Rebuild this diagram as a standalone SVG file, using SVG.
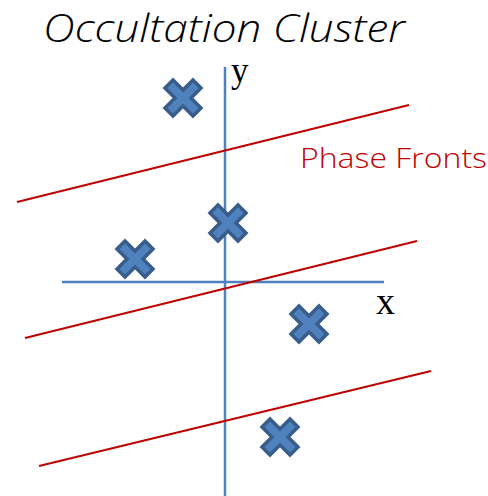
<svg xmlns="http://www.w3.org/2000/svg" width="488" height="496" viewBox="0 0 488 496">
<style>
.ax{stroke:#4f81bd;stroke-width:2.5;fill:none}
.pf{stroke:#c00000;stroke-width:2;fill:none}
.mk{fill:#4f81bd;stroke:#385d8a;stroke-width:3.5;stroke-linejoin:miter}
</style>
<defs>
<polygon id="x" points="-18,-10 -10,-18 0,-8 10,-18 18,-10 8,0 18,10 10,18 0,8 -10,18 -18,10 -8,0"/>
</defs>
<rect width="488" height="496" fill="#fff"/>
<g id="connectors">
<line class="ax" x1="225" y1="67" x2="225" y2="496"/>
<line class="ax" x1="62" y1="282" x2="384" y2="282"/>
<line class="pf" x1="17" y1="202" x2="409" y2="105"/>
<line class="pf" x1="25" y1="338" x2="417" y2="241"/>
<line class="pf" x1="39" y1="466" x2="431" y2="371"/>
</g>
<g id="title"><text x="43" y="42" font-family="Open Sans, sans-serif" font-style="italic" font-weight="300" font-size="38" textLength="362" lengthAdjust="spacingAndGlyphs" fill="#000">Occultation Cluster</text></g>
<g id="label-y"><text x="231" y="82" font-family="Liberation Serif, serif" font-size="35" fill="#000">y</text></g>
<g id="label-x"><text x="376" y="314" font-family="Liberation Serif, serif" font-size="38" fill="#000">x</text></g>
<g id="label-phase"><text x="300" y="168" font-family="Open Sans, sans-serif" font-weight="300" font-size="27" textLength="187" lengthAdjust="spacingAndGlyphs" fill="#c00000">Phase Fronts</text></g>
<g id="m1"><use href="#x" class="mk" transform="translate(183,98)"/></g>
<g id="m2"><use href="#x" class="mk" transform="translate(228,223)"/></g>
<g id="m3"><use href="#x" class="mk" transform="translate(135,259)"/></g>
<g id="m4"><use href="#x" class="mk" transform="translate(309,324)"/></g>
<g id="m5"><use href="#x" class="mk" transform="translate(280,437)"/></g>
</svg>
